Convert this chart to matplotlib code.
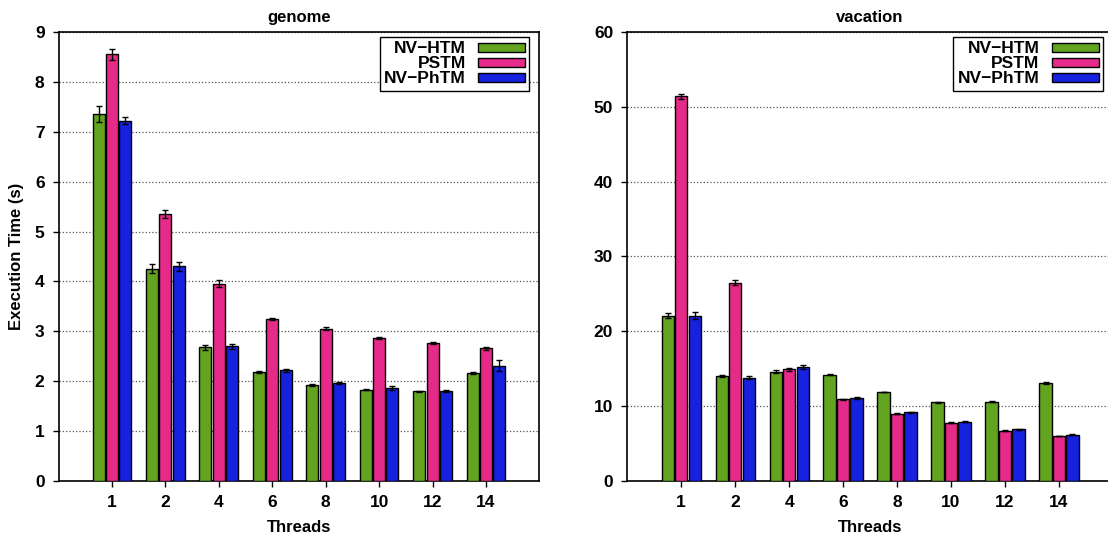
import numpy as np
import matplotlib
matplotlib.use("Agg")
import matplotlib.pyplot as plt

plt.rcParams["font.family"] = ["Liberation Sans", "DejaVu Sans"]
plt.rcParams["font.weight"] = "bold"

threads = ["1", "2", "4", "6", "8", "10", "12", "14"]
series = ["NV\u2212HTM", "PSTM", "NV\u2212PhTM"]
colors = ["#62A420", "#E62A8A", "#1721E0"]

genome_htm = [7.35, 4.25, 2.68, 2.18, 1.93, 1.83, 1.80, 2.17]
genome_pstm = [8.55, 5.35, 3.95, 3.25, 3.05, 2.87, 2.77, 2.66]
genome_phtm = [7.22, 4.30, 2.70, 2.22, 1.96, 1.87, 1.81, 2.31]
genome_htm_err = [0.16, 0.09, 0.05, 0.02, 0.02, 0.01, 0.01, 0.02]
genome_pstm_err = [0.11, 0.08, 0.07, 0.02, 0.03, 0.02, 0.02, 0.03]
genome_phtm_err = [0.07, 0.09, 0.05, 0.03, 0.02, 0.04, 0.02, 0.11]

vac_htm = [22.1, 14.0, 14.6, 14.2, 11.9, 10.5, 10.6, 13.1]
vac_pstm = [51.4, 26.5, 14.9, 10.9, 9.0, 7.8, 6.7, 6.0]
vac_phtm = [22.1, 13.8, 15.2, 11.1, 9.2, 7.9, 6.9, 6.2]
vac_htm_err = [0.3, 0.1, 0.2, 0.1, 0.05, 0.05, 0.05, 0.15]
vac_pstm_err = [0.3, 0.3, 0.2, 0.1, 0.05, 0.05, 0.05, 0.05]
vac_phtm_err = [0.5, 0.2, 0.3, 0.1, 0.05, 0.05, 0.05, 0.05]

fig = plt.figure(figsize=(11.08, 5.38), dpi=100)
ax1 = fig.add_axes([0.0528, 0.106, 0.434, 0.8345])
ax2 = fig.add_axes([0.566, 0.106, 0.4385, 0.8345])


def draw(ax, vals, errs, title, ymax, ystep):
    x = np.arange(len(threads))
    for i, (v, e) in enumerate(zip(vals, errs)):
        ax.bar(x + (i - 1) * 0.25, v, 0.225, color=colors[i], edgecolor="black",
               linewidth=1.0, label=series[i], zorder=3,
               yerr=e, error_kw=dict(ecolor="black", elinewidth=1.0, capsize=2.5, capthick=1.0, zorder=4))
    ax.set_xlim(-1, len(threads))
    ax.set_ylim(0, ymax)
    ax.set_yticks(np.arange(0, ymax + ystep / 2, ystep))
    ax.set_xticks(x)
    ax.set_xticklabels(threads)
    ax.tick_params(labelsize=12.5, length=4, width=1, pad=6)
    ax.yaxis.grid(True, linestyle=":", color="#555555", linewidth=0.9, zorder=0)
    ax.set_axisbelow(True)
    for s in ax.spines.values():
        s.set_linewidth(1.2)
    ax.set_title(title, fontsize=12, fontweight="bold", pad=7)
    ax.set_xlabel("Threads", fontsize=12, fontweight="bold", labelpad=7)
    # legend box sits ~10 px from the right spine and ~5 px below the top
    leg = ax.legend(loc="upper right", bbox_to_anchor=(1 - 10 / 481, 1 - 5 / 449),
                    markerfirst=False, fancybox=False, framealpha=1,
                    edgecolor="black", fontsize=12.5, handlelength=2.7, handleheight=0.45,
                    borderaxespad=0, labelspacing=0.0, handletextpad=0.7,
                    borderpad=0.25)
    leg.get_frame().set_linewidth(1.0)
    for t in leg.get_texts():
        t.set_ha("right")
    leg._legend_box.align = "right"


draw(ax1, [genome_htm, genome_pstm, genome_phtm],
     [genome_htm_err, genome_pstm_err, genome_phtm_err], "genome", 9, 1)
draw(ax2, [vac_htm, vac_pstm, vac_phtm],
     [vac_htm_err, vac_pstm_err, vac_phtm_err], "vacation", 60, 10)
ax1.set_ylabel("Execution Time (s)", fontsize=12, fontweight="bold", labelpad=8)

fig.savefig("out.png", dpi=100)
